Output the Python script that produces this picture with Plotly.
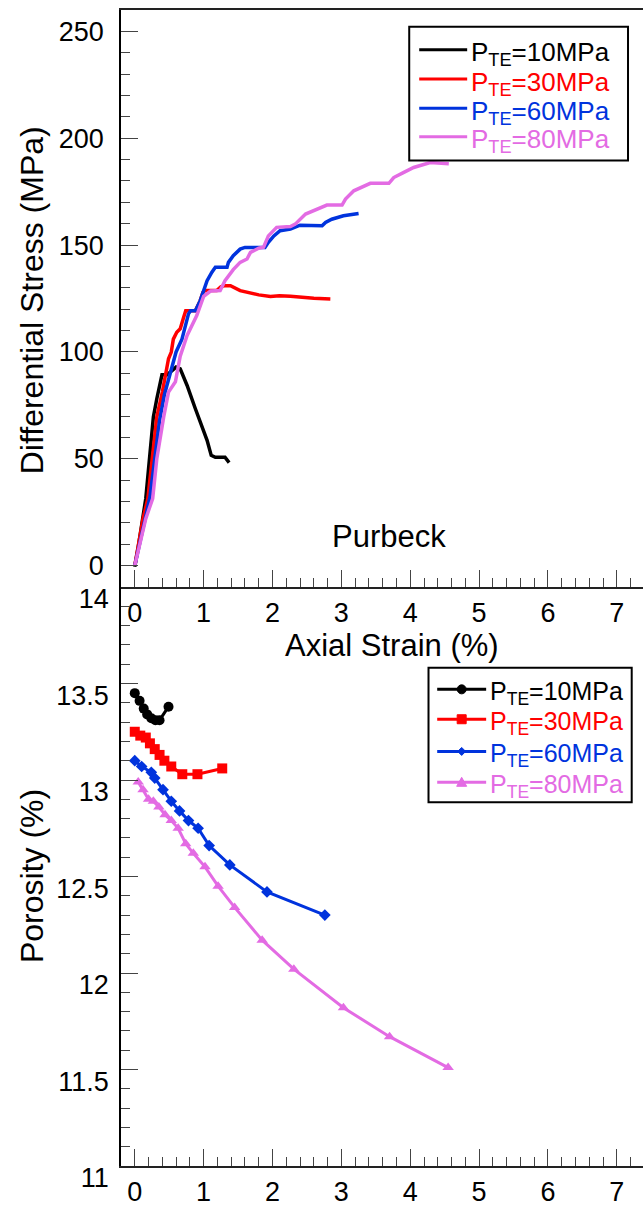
import plotly.graph_objects as go

# ---------------- data ----------------
series_names = ["P<sub>TE</sub>=10MPa", "P<sub>TE</sub>=30MPa", "P<sub>TE</sub>=60MPa", "P<sub>TE</sub>=80MPa"]
series_colors = ["#000000", "#ff0000", "#0033dd", "#e36be3"]

# Top panel: differential stress (MPa) vs axial strain (%)
strain_10 = [0.0, 0.055, 0.16, 0.21, 0.24, 0.27, 0.32, 0.37, 0.395, 0.47, 0.60, 0.66, 0.76, 0.88, 1.0, 1.05, 1.11, 1.17, 1.31, 1.37]
stress_10 = [-0.5, 9.6, 31.4, 50.0, 57.9, 69.6, 78.1, 86.6, 89.3, 89.3, 92.9, 92.1, 84.3, 73.4, 62.6, 58.6, 51.6, 50.7, 50.7, 48.2]

strain_30 = [0.0, 0.05, 0.12, 0.19, 0.25, 0.32, 0.40, 0.44, 0.49, 0.53, 0.56, 0.61, 0.66, 0.71, 0.74, 0.88, 0.95, 0.99, 1.02,
             1.19, 1.25, 1.31, 1.39, 1.53, 1.68, 1.80, 1.97, 2.10, 2.26, 2.45, 2.60, 2.84]
stress_30 = [0.0, 10.0, 22.0, 31.4, 50.0, 69.6, 81.2, 89.0, 96.8, 99.9, 106.0, 109.2, 110.8, 116.2, 119.3, 119.3, 124.0, 127.9, 128.7,
             128.7, 130.5, 131.0, 131.0, 128.7, 127.6, 126.7, 125.9, 126.3, 126.0, 125.4, 125.1, 124.8]

strain_60 = [0.0, 0.06, 0.14, 0.22, 0.29, 0.36, 0.43, 0.50, 0.56, 0.60, 0.685, 0.74, 0.78, 0.81, 0.88, 0.95, 1.0, 1.05, 1.12, 1.17,
             1.34, 1.36, 1.43, 1.53, 1.60, 1.89, 1.94, 2.02, 2.11, 2.26, 2.40, 2.72, 2.77, 2.86, 3.03, 3.25]
stress_60 = [0.0, 9.0, 21.0, 32.0, 50.0, 68.0, 80.0, 88.0, 96.0, 100.0, 106.0, 112.0, 117.8, 119.3, 119.3, 124.0, 129.0, 133.3, 137.3, 139.6,
             139.6, 141.9, 145.0, 148.1, 148.9, 148.9, 151.3, 154.3, 156.7, 157.5, 159.3, 159.0, 160.6, 162.1, 163.7, 164.8]

strain_80 = [0.0, 0.07, 0.16, 0.26, 0.32, 0.42, 0.49, 0.59, 0.66, 0.76, 0.83, 0.90, 1.0, 1.10, 1.24, 1.31, 1.43, 1.53, 1.63, 1.68,
             1.80, 1.87, 1.94, 2.06, 2.26, 2.33, 2.48, 2.65, 2.79, 3.01, 3.06, 3.18, 3.42, 3.69, 3.76, 3.90, 4.05, 4.29, 4.56]
stress_80 = [0.0, 10.0, 22.0, 31.4, 50.0, 69.6, 81.2, 86.0, 98.0, 107.7, 112.3, 117.0, 126.0, 128.5, 128.7, 133.3, 138.5, 141.9, 143.5, 146.6,
             148.5, 149.0, 154.3, 158.3, 158.7, 159.8, 164.5, 166.8, 168.7, 168.7, 171.5, 175.4, 178.9, 178.9, 181.6, 183.9, 186.3, 188.6, 188.1]

# Bottom panel: porosity (%) vs axial strain (%)
pstrain_10 = [0.0, 0.07, 0.13, 0.18, 0.24, 0.30, 0.36, 0.49]
poro_10 = [13.45, 13.41, 13.37, 13.34, 13.32, 13.31, 13.31, 13.38]

pstrain_30 = [0.0, 0.08, 0.16, 0.22, 0.29, 0.36, 0.43, 0.53, 0.69, 0.91, 1.27]
poro_30 = [13.25, 13.23, 13.22, 13.19, 13.16, 13.13, 13.10, 13.07, 13.03, 13.03, 13.06]

pstrain_60 = [0.0, 0.10, 0.24, 0.29, 0.41, 0.53, 0.65, 0.78, 0.92, 1.08, 1.38, 1.92, 2.76]
poro_60 = [13.10, 13.07, 13.04, 13.01, 12.95, 12.89, 12.84, 12.79, 12.75, 12.66, 12.56, 12.42, 12.30]

pstrain_80 = [0.05, 0.12, 0.20, 0.27, 0.35, 0.44, 0.53, 0.63, 0.74, 0.85, 1.02, 1.21, 1.45, 1.85, 2.31, 3.03, 3.70, 4.55]
poro_80 = [12.99, 12.95, 12.90, 12.89, 12.86, 12.82, 12.79, 12.75, 12.67, 12.62, 12.55, 12.45, 12.34, 12.17, 12.02, 11.82, 11.67, 11.51]

marker_symbols = ["circle", "square", "diamond", "triangle-up"]
marker_sizes = [10, 10, 9, 10]

x_range = [-0.2, 7.38]
stress_range = [-10, 260]
poro_range = [11, 14]

# ---------------- layout geometry ----------------
W, H = 643, 1207
ML, MR, MT, MB = 120.5, 0, 10, 37
PW = W - ML - MR
PH = H - MT - MB
SPLIT_PX = 589


def fx(px):
    return (px - ML) / PW


def fy(py):
    return (H - MB - py) / PH


split = fy(SPLIT_PX)
FONT = "Arial, Liberation Sans, sans-serif"
TICKC = "#444444"
TICKFONT = dict(size=27, family=FONT, color="black")

fig = go.Figure()

top_x = [strain_10, strain_30, strain_60, strain_80]
top_y = [stress_10, stress_30, stress_60, stress_80]
for i in range(4):
    fig.add_trace(go.Scatter(x=top_x[i], y=top_y[i], mode="lines",
                             line=dict(color=series_colors[i], width=3.5),
                             xaxis="x", yaxis="y", showlegend=False, name=series_names[i]))

bot_x = [pstrain_10, pstrain_30, pstrain_60, pstrain_80]
bot_y = [poro_10, poro_30, poro_60, poro_80]
for i in range(4):
    fig.add_trace(go.Scatter(x=bot_x[i], y=bot_y[i], mode="lines+markers",
                             line=dict(color=series_colors[i], width=3),
                             marker=dict(symbol=marker_symbols[i], size=marker_sizes[i], color=series_colors[i]),
                             xaxis="x2", yaxis="y2", showlegend=False, name=series_names[i]))

common_x = dict(range=x_range, showgrid=False, zeroline=False, ticks="inside", ticklen=17, tickwidth=1,
                tickcolor=TICKC, dtick=1, tick0=0, tickfont=TICKFONT,
                minor=dict(ticks="inside", ticklen=9, dtick=0.2, tick0=0, tickcolor=TICKC, tickwidth=1, showgrid=False),
                showline=True, linecolor="#222222", linewidth=1.5, ticklabelstandoff=1)

fig.update_layout(
    width=W, height=H, autosize=False,
    margin=dict(l=ML, r=MR, t=MT, b=MB, pad=0),
    paper_bgcolor="white", plot_bgcolor="white",
    font=dict(family=FONT, color="black"),
    showlegend=False,
    xaxis=dict(domain=[0, 1], anchor="y", mirror=True, **common_x),
    xaxis2=dict(domain=[0, 1], anchor="y2", mirror=False, **common_x),
    yaxis=dict(domain=[split, 1], anchor="x", range=stress_range, showgrid=False, zeroline=False,
               ticks="inside", ticklen=17, tickcolor=TICKC, dtick=50, tick0=0,
               minor=dict(ticks="inside", ticklen=9, dtick=10, tick0=0, tickcolor=TICKC, showgrid=False),
               showline=True, linecolor="black", linewidth=1.5, mirror=False,
               tickfont=TICKFONT, ticklabelstandoff=10),
    yaxis3=dict(overlaying="y", side="right", anchor="x", range=stress_range, showgrid=False, zeroline=False,
                ticks="inside", ticklen=8, tickcolor=TICKC, dtick=50, tick0=0, showticklabels=False,
                minor=dict(ticks="inside", ticklen=2, dtick=10, tick0=0, tickcolor=TICKC, showgrid=False),
                showline=False),
    yaxis2=dict(domain=[0, split], anchor="x2", range=poro_range, showgrid=False, zeroline=False,
                ticks="inside", ticklen=17, tickcolor=TICKC, dtick=0.5, tick0=11,
                minor=dict(ticks="inside", ticklen=9, dtick=0.1, tick0=11, tickcolor=TICKC, showgrid=False),
                showline=True, linecolor="black", linewidth=1.5, mirror=False,
                tickfont=TICKFONT, ticklabelstandoff=5, ticklabelshift=12),
    yaxis4=dict(overlaying="y2", side="right", anchor="x2", range=poro_range, showgrid=False, zeroline=False,
                ticks="inside", ticklen=8, tickcolor=TICKC, dtick=0.5, tick0=11, showticklabels=False,
                minor=dict(ticks="inside", ticklen=2, dtick=0.1, tick0=11, tickcolor=TICKC, showgrid=False),
                showline=False),
)

annotations = []
# Axis titles and label
annotations.append(dict(text="Differential Stress (MPa)", x=fx(31), y=fy(301.7), xref="paper", yref="paper",
                        textangle=-90, showarrow=False, xanchor="center", yanchor="middle",
                        font=dict(size=32, family=FONT, color="black")))
annotations.append(dict(text="Porosity (%)", x=fx(31), y=fy(879.5), xref="paper", yref="paper",
                        textangle=-90, showarrow=False, xanchor="center", yanchor="middle",
                        font=dict(size=32, family=FONT, color="black")))
annotations.append(dict(text="Axial Strain (%)", x=fx(392), y=fy(648), xref="paper", yref="paper",
                        showarrow=False, xanchor="center", yanchor="middle",
                        font=dict(size=31, family=FONT, color="black")))
annotations.append(dict(text="Purbeck", x=fx(388.5), y=fy(538.3), xref="paper", yref="paper",
                        showarrow=False, xanchor="center", yanchor="middle",
                        font=dict(size=31, family=FONT, color="black")))

shapes = []
# Legend 1 (top panel)
shapes.append(dict(type="rect", xref="paper", yref="paper", x0=fx(409), x1=fx(628), y0=fy(161), y1=fy(26.7),
                   line=dict(color="black", width=2), fillcolor="white", layer="above"))
rows1 = [50, 79.3, 108.7, 137.3]
for i in range(4):
    shapes.append(dict(type="line", xref="paper", yref="paper", x0=fx(419), x1=fx(467), y0=fy(rows1[i]), y1=fy(rows1[i]),
                       line=dict(color=series_colors[i], width=3), layer="above"))
    annotations.append(dict(text=series_names[i], x=fx(469), y=fy(rows1[i] + 4), xref="paper", yref="paper",
                            showarrow=False, xanchor="left", yanchor="middle",
                            font=dict(size=26, family=FONT, color=series_colors[i])))

# Legend 2 (bottom panel)
shapes.append(dict(type="rect", xref="paper", yref="paper", x0=fx(428.3), x1=fx(631.7), y0=fy(805), y1=fy(670),
                   line=dict(color="black", width=2), fillcolor="white", layer="above"))
rows2 = [691.7, 721.7, 754, 785]
mx = fx(461.5)
for i in range(4):
    shapes.append(dict(type="line", xref="paper", yref="paper", x0=fx(437), x1=fx(486), y0=fy(rows2[i]), y1=fy(rows2[i]),
                       line=dict(color=series_colors[i], width=3), layer="above"))
    annotations.append(dict(text=series_names[i], x=fx(488), y=fy(rows2[i] + 4), xref="paper", yref="paper",
                            showarrow=False, xanchor="left", yanchor="middle",
                            font=dict(size=25, family=FONT, color=series_colors[i])))
    yy = fy(rows2[i])
    base = dict(xref="paper", yref="paper", xsizemode="pixel", ysizemode="pixel", xanchor=mx, yanchor=yy,
                fillcolor=series_colors[i], line=dict(color=series_colors[i], width=1), layer="above")
    if marker_symbols[i] == "circle":
        shapes.append(dict(type="circle", x0=-4.5, x1=4.5, y0=-4.5, y1=4.5, **base))
    elif marker_symbols[i] == "square":
        shapes.append(dict(type="rect", x0=-4.5, x1=4.5, y0=-4.5, y1=4.5, **base))
    elif marker_symbols[i] == "diamond":
        shapes.append(dict(type="path", path="M -4,0 L 0,4 L 4,0 L 0,-4 Z", **base))
    else:
        shapes.append(dict(type="path", path="M -5,-4 L 5,-4 L 0,5 Z", **base))

fig.update_layout(annotations=annotations, shapes=shapes)
fig.write_html("out.html", config={"displayModeBar": False},
               post_script="document.body.style.margin='0';document.body.style.overflow='hidden';")
